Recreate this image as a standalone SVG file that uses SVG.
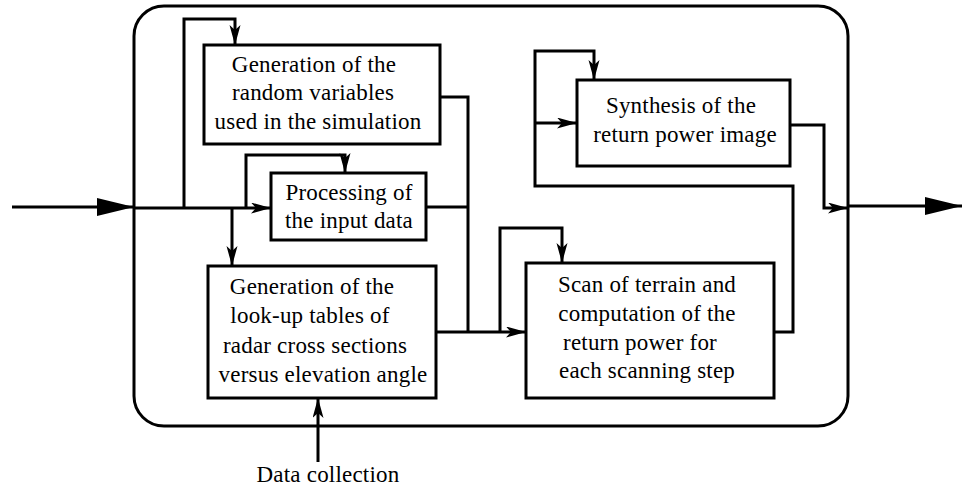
<svg xmlns="http://www.w3.org/2000/svg" width="963" height="489" viewBox="0 0 963 489">
  <style>
    .frame { fill: none; stroke: #000; stroke-width: 3; }
    .box { fill: #fff; stroke: #000; stroke-width: 3; }
    .wire { fill: none; stroke: #000; stroke-width: 3; stroke-linejoin: miter; }
    .lbl { font-family: "Liberation Serif", "Times New Roman", serif; font-size: 23px; letter-spacing: 0.2px; fill: #000; text-anchor: middle; }
  </style>
  <defs>
    <marker id="tip" markerUnits="userSpaceOnUse" markerWidth="22" markerHeight="12" refX="20" refY="5.5" orient="auto">
      <path d="M0,0 L20,5.5 L0,11 L5,5.5 Z" fill="#000"/>
    </marker>
    <marker id="bigtip" markerUnits="userSpaceOnUse" markerWidth="40" markerHeight="20" refX="37" refY="9" orient="auto">
      <path d="M0,0 L37,9 L0,18 Z" fill="#000"/>
    </marker>
  </defs>

  <!-- enclosing simulator frame -->
  <rect class="frame" x="134" y="6" width="714" height="420" rx="30" ry="30"/>

  <!-- connectors -->
  <g id="connectors">
    <path class="wire" d="M12,207 H134" marker-end="url(#bigtip)"/>
    <path class="wire" d="M134,208 H271" marker-end="url(#tip)"/>
    <path class="wire" d="M184,208 V19 H235 V45" marker-end="url(#tip)"/>
    <path class="wire" d="M246,208 V155 H345 V173" marker-end="url(#tip)"/>
    <path class="wire" d="M232,208 V266" marker-end="url(#tip)"/>
    <path class="wire" d="M440,97 H468 V332"/>
    <path class="wire" d="M426,207 H468"/>
    <path class="wire" d="M436,332 H526" marker-end="url(#tip)"/>
    <path class="wire" d="M500,332 V228 H562 V263" marker-end="url(#tip)"/>
    <path class="wire" d="M774,332 H793 V186 H535 V51 H594 V80" marker-end="url(#tip)"/>
    <path class="wire" d="M535,123 H577" marker-end="url(#tip)"/>
    <path class="wire" d="M790,125 H824 V208 H848" marker-end="url(#tip)"/>
    <path class="wire" d="M848,206 H962" marker-end="url(#bigtip)"/>
    <path class="wire" d="M318,462 V398" marker-end="url(#tip)"/>
  </g>

  <g id="random-variables">
    <rect class="box" x="204" y="45" width="236" height="99"/>
    <text class="lbl" x="314" y="72">Generation of the</text>
    <text class="lbl" x="313" y="100">random variables</text>
    <text class="lbl" x="318" y="129">used in the simulation</text>
  </g>

  <g id="input-processing">
    <rect class="box" x="271" y="173" width="155" height="67"/>
    <text class="lbl" x="349" y="200">Processing of</text>
    <text class="lbl" x="349" y="228">the input data</text>
  </g>

  <g id="lookup-tables">
    <rect class="box" x="208" y="266" width="228" height="132"/>
    <text class="lbl" x="312" y="294">Generation of the</text>
    <text class="lbl" x="310" y="323">look-up tables of</text>
    <text class="lbl" x="315" y="353">radar cross sections</text>
    <text class="lbl" x="323" y="382">versus elevation angle</text>
  </g>

  <g id="terrain-scan">
    <rect class="box" x="526" y="263" width="248" height="135"/>
    <text class="lbl" x="647" y="292">Scan of terrain and</text>
    <text class="lbl" x="647" y="321">computation of the</text>
    <text class="lbl" x="640" y="350">return power for</text>
    <text class="lbl" x="647" y="378">each scanning step</text>
  </g>

  <g id="image-synthesis">
    <rect class="box" x="577" y="80" width="213" height="86"/>
    <text class="lbl" x="681" y="113">Synthesis of the</text>
    <text class="lbl" x="685" y="142">return power image</text>
  </g>

  <g id="data-collection">
    <text class="lbl" x="328" y="482">Data collection</text>
  </g>
</svg>
